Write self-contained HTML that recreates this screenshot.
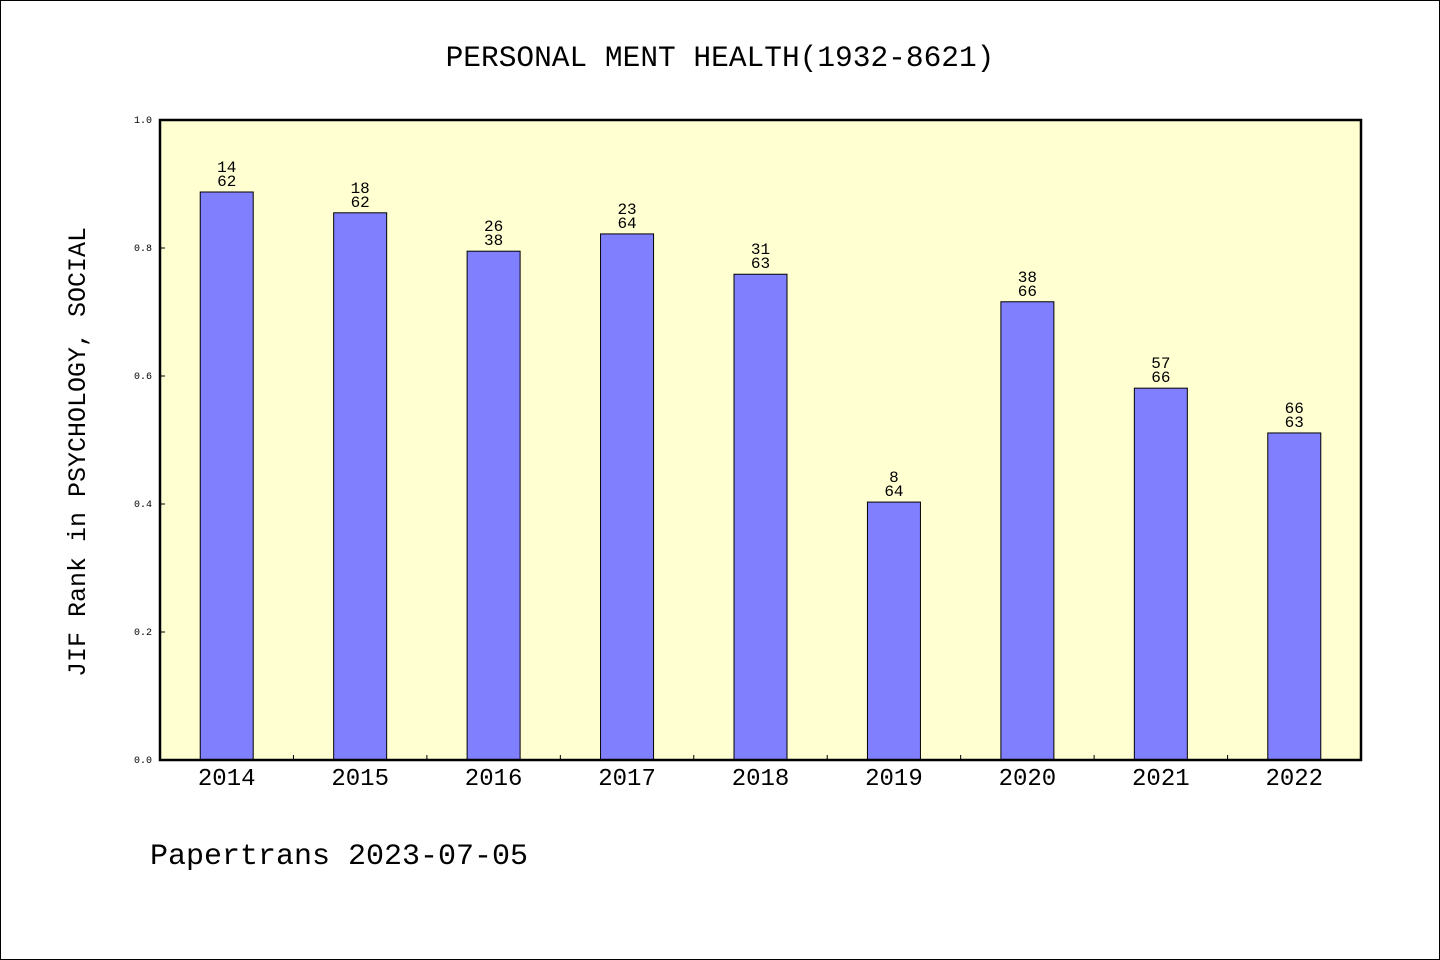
<!DOCTYPE html>
<html><head><meta charset="utf-8"><style>
body{margin:0;background:#fff}
svg{display:block}
text{font-family:"Liberation Mono","Noto Sans CJK SC",monospace;fill:#000}
</style></head><body>
<svg id="chart" width="1440" height="960" xmlns="http://www.w3.org/2000/svg">
<rect x="0.5" y="0.5" width="1439" height="959" fill="#fff" stroke="#000"/>
<text x="720" y="66" font-size="29.5" text-anchor="middle">PERSONAL MENT HEALTH(1932-8621)</text>
<rect x="160" y="120" width="1201" height="640" fill="#ffffd2"/>
<g id="grid"></g>
<g id="bars"></g>
<rect x="160" y="120" width="1201" height="640" fill="none" stroke="#000" stroke-width="2.5"/>
<text transform="translate(85,452) rotate(-90)" font-size="25" text-anchor="middle">JIF Rank in PSYCHOLOGY, SOCIAL</text>
<text x="150" y="864" font-size="30">Papertrans 2023-07-05</text>
</svg>
<script>
const categories=["2014","2015","2016","2017","2018","2019","2020","2021","2022"];
const values=[0.8875,0.855,0.795,0.822,0.759,0.403,0.716,0.581,0.511];
const ranks=["14","18","26","23","31","8","38","57","66"];
const totals=["62","62","38","64","63","64","66","66","63"];
const yTicks=[0,0.2,0.4,0.6,0.8,1.0];
const yTickLabels=["0.0","0.2","0.4","0.6","0.8","1.0"];
const NS="http://www.w3.org/2000/svg";
const X0=160,W=1201,Y0=760,H=640;
const slot=W/categories.length;
const y=v=>Y0-v*H;
const xc=i=>X0+slot*(i+0.5);
const g=document.getElementById('bars'),gr=document.getElementById('grid');
function mk(tag,attrs,parent){const e=document.createElementNS(NS,tag);for(const k in attrs)e.setAttribute(k,attrs[k]);parent.appendChild(e);return e;}
yTicks.forEach((t,i)=>{
  const l=mk('line',{x1:X0,x2:X0+5,y1:y(t),y2:y(t),stroke:'#000'},gr);
  
  
  const tx=mk('text',{x:152,y:y(t)+3,'font-size':10,'text-anchor':'end'},gr);
  tx.textContent=yTickLabels[i];
  
  
});
for(let i=1;i<categories.length;i++){
  const l=mk('line',{x1:X0+slot*i,x2:X0+slot*i,y1:Y0,y2:Y0-5,stroke:'#000'},gr);
  
  
}
categories.forEach((c,i)=>{
  const bw=53;
  const r=mk('rect',{x:xc(i)-bw/2,y:y(values[i]),width:bw,height:values[i]*H,fill:'#8080ff',stroke:'#000','stroke-width':1},g);
  
  
  const t1=mk('text',{x:xc(i),y:y(values[i])-20,'font-size':16,'text-anchor':'middle'},g);
  t1.textContent=ranks[i];
  
  
  const t2=mk('text',{x:xc(i),y:y(values[i])-6,'font-size':16,'text-anchor':'middle'},g);
  t2.textContent=totals[i];
  
  
  const xl=mk('text',{x:xc(i),y:785,'font-size':24,'text-anchor':'middle'},g);
  xl.textContent=c;
  
  
});
</script>
</body></html>
